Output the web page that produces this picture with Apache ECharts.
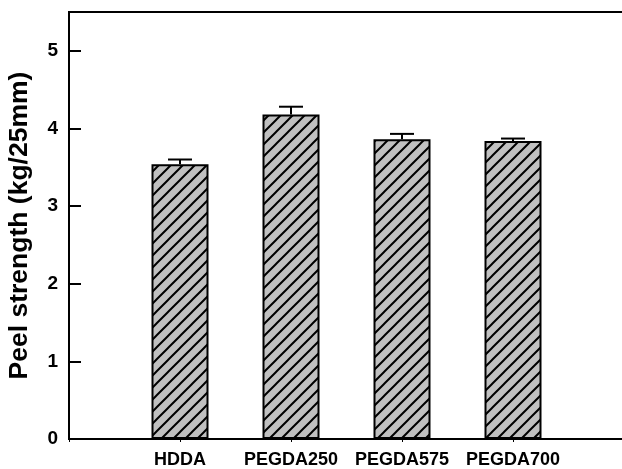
<!DOCTYPE html>
<html>
<head>
<meta charset="utf-8">
<script src="https://cdn.jsdelivr.net/npm/echarts@6/dist/echarts.min.js"></script>
<style>
  html, body { margin: 0; padding: 0; background: #ffffff; }
  #chart { width: 622px; height: 469px; }
</style>
</head>
<body>
<div id="chart"></div>
<script>
// Peel strength of cured films for each diacrylate monomer
const categories = ['HDDA', 'PEGDA250', 'PEGDA575', 'PEGDA700'];
const peelStrength = [3.54, 4.18, 3.86, 3.84];
const peelError = [0.06, 0.10, 0.07, 0.03];
const yTickLabels = ['0', '1', '2', '3', '4', '5'];
const xPositions = [1, 2, 3, 4];

// Grey fill with black "/" hatching
function hatchPattern() {
  const s = 12;
  const c = document.createElement('canvas');
  c.width = s; c.height = s;
  const g = c.getContext('2d');
  g.fillStyle = '#c0c0c0';
  g.fillRect(0, 0, s, s);
  g.strokeStyle = '#000000';
  g.lineWidth = 2;
  g.beginPath();
  g.moveTo(-s / 2, s / 2); g.lineTo(s / 2, -s / 2);
  g.moveTo(0, s); g.lineTo(s, 0);
  g.moveTo(s / 2, s * 1.5); g.lineTo(s * 1.5, s / 2);
  g.stroke();
  return c;
}

const chart = echarts.init(document.getElementById('chart'), null, { renderer: 'canvas' });
const font = 'Liberation Sans, Arial, sans-serif';

const barData = xPositions.map((x, i) => [x, peelStrength[i]]);
const errData = xPositions.map((x, i) => [x, peelStrength[i], peelStrength[i] + peelError[i]]);
const axisLineStyle = { color: '#000000', width: 2 };

chart.setOption({
  animation: false,
  backgroundColor: '#ffffff',
  grid: {
    // the plot frame runs past the right edge of the page
    left: 69, top: 12, width: 555, height: 427,
    outerBoundsMode: 'none', containLabel: false,
    show: true, borderColor: '#000000', borderWidth: 2, backgroundColor: 'transparent'
  },
  xAxis: {
    type: 'value', min: 0, max: 5, interval: 1,
    splitLine: { show: false },
    axisLine: { show: true, onZero: false, lineStyle: axisLineStyle },
    axisTick: { show: true, length: 3, lineStyle: { color: '#000000', width: 1 } },
    axisLabel: {
      show: true,
      formatter: v => categories[Math.round(v) - 1] || '',
      fontFamily: font, fontWeight: 'bold', fontSize: 18, color: '#000000', margin: 12
    }
  },
  yAxis: {
    type: 'value', min: 0, max: 5.5, interval: 1,
    name: 'Peel strength (kg/25mm)',
    nameLocation: 'middle', nameGap: 36,
    nameTextStyle: { fontFamily: font, fontWeight: 'bold', fontSize: 26.5, color: '#000000' },
    splitLine: { show: false },
    axisLine: { show: true, onZero: false, lineStyle: axisLineStyle },
    axisTick: { show: true, inside: true, length: 12, lineStyle: { color: '#000000', width: 2 } },
    axisLabel: {
      show: true,
      showMaxLabel: false,
      formatter: v => Number.isInteger(v) && yTickLabels[v] !== undefined ? yTickLabels[v] : '',
      fontFamily: font, fontWeight: 'bold', fontSize: 19, color: '#000000', margin: 11
    }
  },
  series: [
    {
      type: 'bar',
      data: barData,
      barWidth: 57,
      itemStyle: {
        color: { image: hatchPattern(), repeat: 'repeat' },
        borderColor: '#000000', borderWidth: 2
      }
    },
    {
      // upward error bars with caps
      type: 'custom',
      data: errData,
      z: 3,
      renderItem: function (params, api) {
        const x = api.value(0);
        const base = api.coord([x, api.value(1)]);
        const top = api.coord([x, api.value(2)]);
        const half = 12;
        const style = { stroke: '#000000', lineWidth: 2 };
        return {
          type: 'group',
          children: [
            { type: 'line', shape: { x1: base[0], y1: base[1], x2: top[0], y2: top[1] }, style: style },
            { type: 'line', shape: { x1: top[0] - half, y1: top[1], x2: top[0] + half, y2: top[1] }, style: style }
          ]
        };
      }
    }
  ]
});
</script>
</body>
</html>
